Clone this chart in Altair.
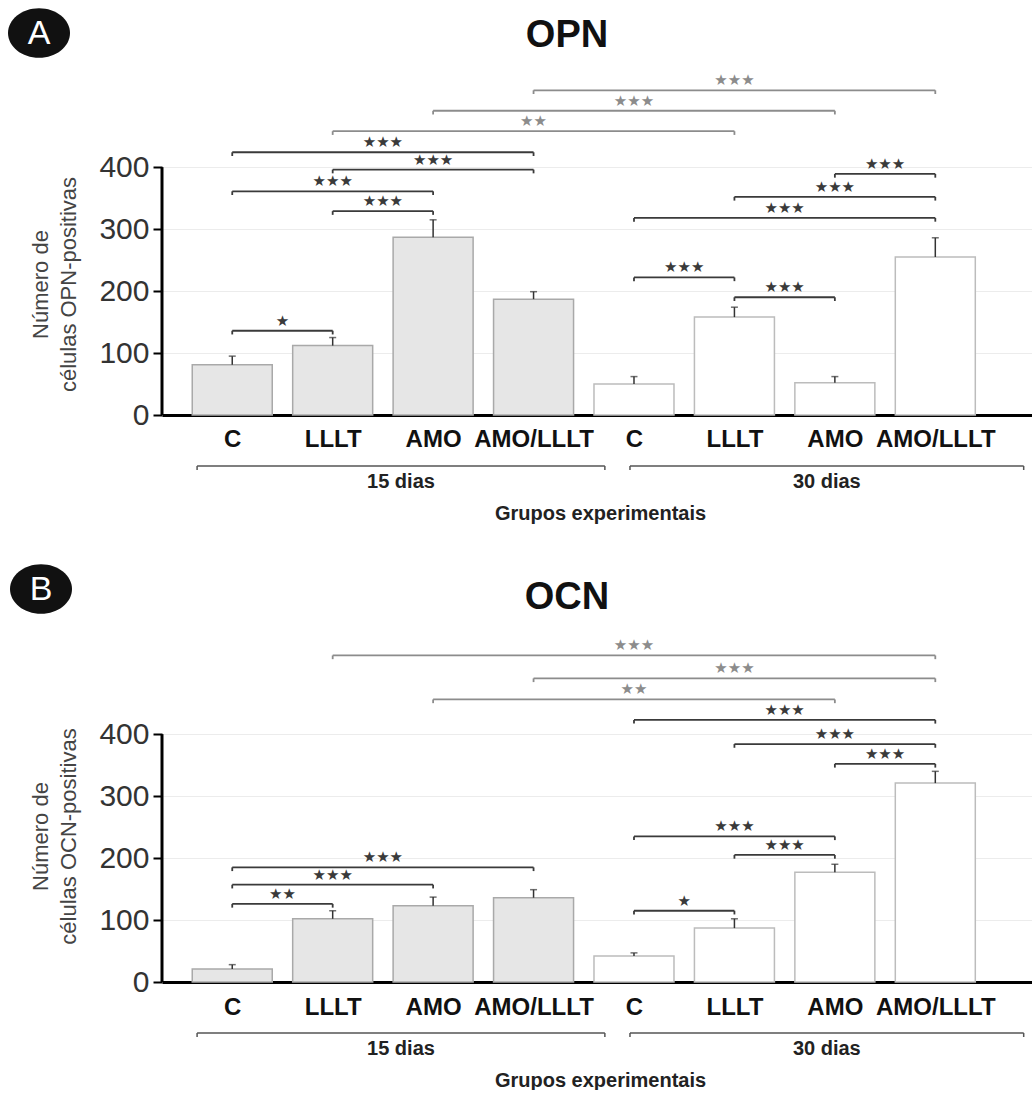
import altair as alt
import pandas as pd

# ---------------- data ----------------
groups = ["C", "LLLT", "AMO", "AMO/LLLT"]
periods = ["15 dias", "30 dias"]

opn_mean = [81, 112, 287, 187, 50, 158, 52, 255]
opn_err = [14, 13, 28, 12, 12, 16, 10, 31]
ocn_mean = [21, 102, 123, 136, 42, 87, 177, 321]
ocn_err = [7, 13, 14, 13, 5, 15, 13, 19]

S1, S2, S3 = "★", "★★", "★★★"
# significance brackets: first bar index, second bar index, bracket height, stars, kind
opn_i0 = [0, 1, 0, 1, 0, 4, 5, 4, 5, 6, 1, 2, 3]
opn_i1 = [1, 2, 2, 3, 3, 5, 6, 7, 7, 7, 5, 6, 7]
opn_h = [136, 329, 361, 396, 424, 222, 190, 318, 352, 389, 458, 491, 524]
opn_sig = [S1, S3, S3, S3, S3, S3, S3, S3, S3, S3, S2, S3, S3]
opn_kind = ["same"] * 10 + ["cross"] * 3

ocn_i0 = [0, 0, 0, 4, 5, 4, 6, 5, 4, 2, 3, 1]
ocn_i1 = [1, 2, 3, 5, 6, 6, 7, 7, 7, 6, 7, 7]
ocn_h = [126, 157, 185, 115, 205, 235, 352, 384, 423, 456, 490, 527]
ocn_sig = [S2, S3, S3, S1, S3, S3, S3, S3, S3, S2, S3, S3]
ocn_kind = ["same"] * 9 + ["cross"] * 3

# ---------------- style ----------------
FONT = "Liberation Sans"
W, H = 870, 347
XS = alt.Scale(domain=[-0.6496, 7.913], nice=False, zero=False)
YS = alt.Scale(domain=[0, 560], nice=False, zero=True)
LABEL_EXPR = repr(groups * 2) + "[datum.value]"
ELLIPSE = "M -1 0 A 1 0.8 0 1 1 1 0 A 1 0.8 0 1 1 -1 0 Z"


def panel(letter, name, ytitle, means, errs, i0, i1, h, sig, kind,
          ytitle_y, label_pad, title_y, bx, by):
    bars = pd.DataFrame({
        "idx": list(range(8)),
        "group": groups * 2,
        "period": [p for p in periods for _ in groups],
        "mean": means,
        "top": [m + e for m, e in zip(means, errs)],
    })
    br = pd.DataFrame({"i0": i0, "i1": i1, "h": h, "sig": sig, "kind": kind})
    per = pd.DataFrame({"period": periods, "p": [0, 1], "lo": [0, 4], "hi": [3, 7]})

    xaxis = alt.Axis(
        values=list(range(8)), labelExpr=LABEL_EXPR, ticks=False, grid=False,
        domainColor="#000", domainWidth=3,
        labelFont=FONT, labelFontSize=24, labelFontWeight="bold", labelColor="#111",
        labelPadding=label_pad, labelFlush=False, labelOverlap=False,
        title="Grupos experimentais", titleFont=FONT, titleFontSize=20,
        titleFontWeight="bold", titleColor="#222", titleX=438, titleY=98,
        titleBaseline="middle")
    yaxis = alt.Axis(
        values=[0, 100, 200, 300, 400], domain=False, ticks=True, tickColor="#000",
        tickWidth=2, tickSize=9, labelFont=FONT, labelFontSize=30, labelColor="#333",
        labelPadding=4, grid=True, gridColor="#ececec", gridWidth=1,
        title=ytitle, titleFont=FONT, titleFontSize=22, titleFontWeight="normal",
        titleColor="#444", titleX=-122, titleY=ytitle_y, titleBaseline="middle",
        titleAlign="center", titleLineHeight=28)

    base = alt.Chart(bars)
    bar = base.mark_bar(width=80, strokeWidth=1.5).encode(
        x=alt.X("idx:Q", scale=XS, axis=xaxis),
        y=alt.Y("mean:Q", scale=YS, axis=yaxis),
        fill=alt.Fill("period:N", scale=alt.Scale(domain=periods, range=["#e6e6e6", "#ffffff"]), legend=None),
        stroke=alt.Stroke("period:N", scale=alt.Scale(domain=periods, range=["#a9a9a9", "#bcbcbc"]), legend=None),
    )
    err = base.mark_rule(color="#333", strokeWidth=1.5).encode(x="idx:Q", y="mean:Q", y2="top:Q")
    cap = base.mark_tick(color="#333", orient="horizontal", size=7, thickness=1.5).encode(
        x="idx:Q", y="top:Q")

    yline = alt.Chart(pd.DataFrame({"lo": [0], "hi": [400]})).mark_rule(
        color="#000", strokeWidth=3).encode(x=alt.value(0), y="lo:Q", y2="hi:Q")

    kcol = alt.Color("kind:N", scale=alt.Scale(domain=["same", "cross"], range=["#3a3a3a", "#8c8c8c"]),
                     legend=None)
    bb = alt.Chart(br)
    bline = bb.mark_rule(strokeWidth=1.8).encode(x="i0:Q", x2="i1:Q", y="h:Q", color=kcol)
    blegs = bb.transform_fold(["i0", "i1"], as_=["end", "pos"]).transform_calculate(
        low="datum.h - 6").mark_rule(strokeWidth=1.8).encode(
        x="pos:Q", y="h:Q", y2="low:Q", color=kcol)
    stars = bb.transform_calculate(mid="(datum.i0 + datum.i1) / 2").mark_text(
        font="DejaVu Sans", fontSize=15, dy=-10, baseline="middle").encode(
        x="mid:Q", y="h:Q", text="sig:N", color=kcol)

    pp = alt.Chart(per).transform_calculate(
        x0="datum.lo - (datum.p == 0 ? 0.35 : 0.04)",
        x1="datum.hi + (datum.p == 0 ? 0.71 : 0.88)",
    ).transform_calculate(xm="(datum.x0 + datum.x1) / 2")
    gline = pp.mark_rule(color="#555", strokeWidth=1.5).encode(
        x="x0:Q", x2="x1:Q", y=alt.value(H + 51))
    glegs = pp.transform_fold(["x0", "x1"], as_=["end", "pos"]).mark_rule(
        color="#555", strokeWidth=1.5).encode(x="pos:Q", y=alt.value(H + 51), y2=alt.value(H + 55))
    gtext = pp.mark_text(font=FONT, fontSize=20, fontWeight="bold", color="#222",
                         baseline="middle").encode(x="xm:Q", y=alt.value(H + 67), text="period:N")

    bdf = pd.DataFrame({"letter": [letter], "name": [name]})
    badge = alt.Chart(bdf).mark_point(shape=ELLIPSE, size=3844, filled=True, color="#111",
                                      opacity=1).encode(x=alt.value(bx), y=alt.value(by))
    btxt = alt.Chart(bdf).mark_text(font=FONT, fontSize=34, color="white", baseline="middle",
                                    align="center").encode(
        x=alt.value(bx), y=alt.value(by + 1), text="letter:N")
    ttl = alt.Chart(bdf).mark_text(font=FONT, fontSize=38, fontWeight="bold", color="#111",
                                   baseline="middle", align="center").encode(
        x=alt.value(405), y=alt.value(title_y), text="name:N")

    return alt.layer(bar, err, cap, yline, bline, blegs, stars, gline, glegs, gtext,
                     badge, btxt, ttl).properties(width=W, height=H)


pA = panel("A", "OPN", ["Número de", "células OPN-positivas"], opn_mean, opn_err,
           opn_i0, opn_i1, opn_h, opn_sig, opn_kind,
           ytitle_y=216, label_pad=12, title_y=-32, bx=-123, by=-35)
pB = panel("B", "OCN", ["Número de", "células OCN-positivas"], ocn_mean, ocn_err,
           ocn_i0, ocn_i1, ocn_h, ocn_sig, ocn_kind,
           ytitle_y=201, label_pad=13, title_y=-37, bx=-121, by=-46)

chart = alt.vconcat(pA, pB, spacing=220, bounds="flush").properties(
    padding={"left": 8, "top": 8, "right": 0, "bottom": 0},
    background="white",
).configure_view(stroke=None)

chart.save("out.html", embed_options={"renderer": "svg", "actions": False})
